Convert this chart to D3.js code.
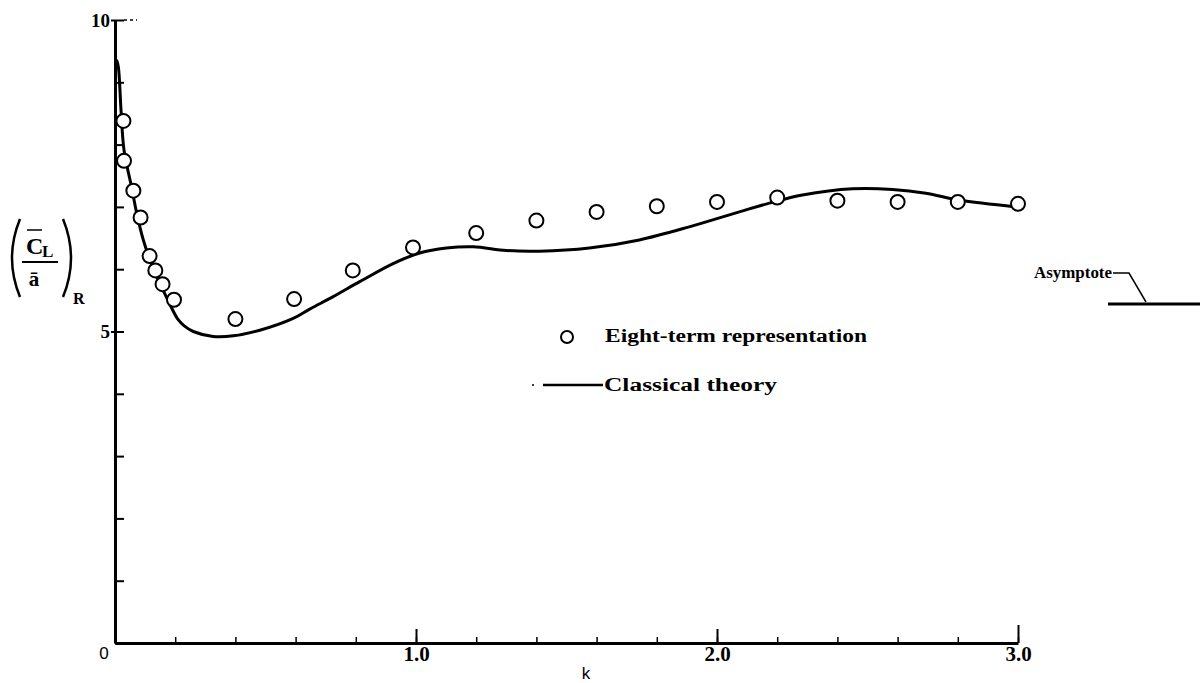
<!DOCTYPE html>
<html>
<head>
<meta charset="utf-8">
<script src="https://cdn.jsdelivr.net/npm/d3@7"></script>
<style>
  body { margin: 0; background: #fff; }
  svg { display: block; }
  .serif { font-family: "Liberation Serif", "DejaVu Serif", serif; font-weight: bold; }
  .sans { font-family: "Liberation Sans", Arial, sans-serif; }
</style>
</head>
<body>
<script>
// *** DATA ***

// Eight-term representation (circles)
var termK = [0.028, 0.03, 0.061, 0.085, 0.115, 0.134, 0.158, 0.196, 0.4, 0.595, 0.79, 0.99,
             1.2, 1.4, 1.6, 1.8, 2.0, 2.2, 2.4, 2.6, 2.8, 3.0];
var termV = [8.38, 7.74, 7.26, 6.83, 6.21, 5.98, 5.76, 5.51, 5.20, 5.52, 5.98, 6.35,
             6.58, 6.78, 6.92, 7.01, 7.08, 7.15, 7.10, 7.08, 7.08, 7.05];

// Classical theory (solid curve)
var theoryK = [0.005, 0.011, 0.02, 0.03, 0.055, 0.072, 0.094, 0.116, 0.149, 0.17, 0.19, 0.21, 0.23, 0.26,
               0.326, 0.393, 0.481, 0.592, 0.647, 0.725, 0.813, 0.924, 1.012, 1.101, 1.19, 1.30,
               1.41, 1.576, 1.742, 1.908, 2.074, 2.174, 2.284, 2.45, 2.583, 2.694, 2.804, 2.993];
var theoryV = [9.36, 9.25, 8.55, 7.91, 7.32, 6.90, 6.47, 6.15, 5.77, 5.56, 5.36, 5.19, 5.09, 5.00,
               4.92, 4.93, 5.02, 5.21, 5.36, 5.56, 5.80, 6.09, 6.26, 6.34, 6.36, 6.30,
               6.29, 6.34, 6.47, 6.68, 6.92, 7.06, 7.19, 7.29, 7.28, 7.22, 7.11, 7.00];

// Ticks
var yTicks = [0, 1, 2, 3, 4, 5, 6, 7, 8, 9, 10];
var yLabels = {5: "5", 10: "10"};
var xMinorTicks = d3.range(1, 16).map(function(i){ return +(i * 0.2).toFixed(1); });
var xMajorTicks = [1, 2, 3];
var xLabels = {1: "1.0", 2: "2.0", 3: "3.0"};

// Legend texts
var legendItems = ["Eight-term representation", "Classical theory"];

// *** CHART ***

var W = 1202, H = 683;
var svg = d3.select("body").append("svg").attr("width", W).attr("height", H);

var x = d3.scaleLinear().domain([0, 3]).range([115, 1018]);
var y = d3.scaleLinear().domain([0, 10]).range([643, 20]);

// y axis: ticks pointing inward, labels on the left
var yAxis = d3.axisLeft(y)
  .tickValues(yTicks)
  .tickSizeInner(-9)
  .tickSizeOuter(0)
  .tickPadding(5)
  .tickFormat(function(d){ return yLabels[d] || ""; });

var gy = svg.append("g").attr("transform", "translate(" + x(0) + ",0)").call(yAxis);
gy.select(".domain").attr("stroke", "#000").attr("stroke-width", 3);
gy.selectAll(".tick line").attr("stroke", "#000").attr("stroke-width", 2);
gy.selectAll(".tick text").attr("class", "serif").style("font-size", "19px").attr("fill", "#000");
// 5 and 10 ticks cross the axis
gy.selectAll(".tick").filter(function(d){ return d === 5 || d === 10; })
  .append("line").attr("x1", -4).attr("x2", 0).attr("stroke", "#000").attr("stroke-width", 2);
// dashed stub at top
svg.append("line")
  .attr("x1", x(0) + 9).attr("x2", x(0) + 22).attr("y1", y(10)).attr("y2", y(10))
  .attr("stroke", "#000").attr("stroke-width", 1.5).attr("stroke-dasharray", "3,3");

// x axis: minor and major ticks pointing up
var gxMinor = svg.append("g").attr("transform", "translate(0," + y(0) + ")")
  .call(d3.axisBottom(x).tickValues(xMinorTicks).tickSizeInner(-6).tickSizeOuter(0).tickFormat(""));
gxMinor.select(".domain").attr("stroke", "#000").attr("stroke-width", 3);
gxMinor.selectAll(".tick line").attr("stroke", "#000").attr("stroke-width", 1.5);

var gxMajor = svg.append("g").attr("transform", "translate(0," + y(0) + ")")
  .call(d3.axisBottom(x).tickValues(xMajorTicks).tickSizeInner(-14).tickSizeOuter(0).tickPadding(8)
    .tickFormat(function(d){ return xLabels[d]; }));
gxMajor.select(".domain").remove();
gxMajor.selectAll(".tick line").attr("stroke", "#000").attr("stroke-width", 2)
  .attr("y2", function(d){ return d === 3 ? -18 : -14; });
gxMajor.selectAll(".tick text").attr("class", "serif").style("font-size", "21px").attr("fill", "#000")
  .attr("y", 3).attr("dy", "0.71em");

// origin label and axis title
svg.append("text").attr("class", "sans").attr("x", 104).attr("y", 659)
  .attr("text-anchor", "middle").style("font-size", "17px").text("0");
svg.append("text").attr("class", "sans").attr("x", 586).attr("y", 679)
  .attr("text-anchor", "middle").style("font-size", "17px").text("k");

// y axis title: (C̄L / ā)R
var yt = svg.append("g");
yt.append("path").attr("d", "M20,219 Q4,258 20,297").attr("fill", "none").attr("stroke", "#000").attr("stroke-width", 2.5);
yt.append("path").attr("d", "M63,219 Q79,258 63,297").attr("fill", "none").attr("stroke", "#000").attr("stroke-width", 2.5);
yt.append("text").attr("class", "serif").attr("x", 26).attr("y", 254).style("font-size", "24px").text("C");
yt.append("line").attr("x1", 27).attr("x2", 42).attr("y1", 230).attr("y2", 230).attr("stroke", "#000").attr("stroke-width", 1.5);
yt.append("text").attr("class", "serif").attr("x", 42).attr("y", 257).style("font-size", "17px").text("L");
yt.append("line").attr("x1", 22).attr("x2", 58).attr("y1", 262).attr("y2", 262).attr("stroke", "#000").attr("stroke-width", 2);
yt.append("text").attr("class", "serif").attr("x", 34).attr("y", 286).attr("text-anchor", "middle").style("font-size", "21px").text("ā");
yt.append("text").attr("class", "serif").attr("x", 73).attr("y", 304).style("font-size", "16px").text("R");

// classical theory curve
var line = d3.line()
  .x(function(d){ return x(d[0]); })
  .y(function(d){ return y(d[1]); })
  .curve(d3.curveCatmullRom.alpha(0.5));

svg.append("path")
  .datum(d3.zip(theoryK, theoryV))
  .attr("d", line)
  .attr("fill", "none").attr("stroke", "#000").attr("stroke-width", 3);

// eight-term circles
svg.selectAll("circle.term")
  .data(d3.zip(termK, termV))
  .enter().append("circle")
  .attr("class", "term")
  .attr("cx", function(d){ return x(d[0]); })
  .attr("cy", function(d){ return y(d[1]); })
  .attr("r", 7)
  .attr("fill", "#fff").attr("stroke", "#000").attr("stroke-width", 2);

// legend
svg.append("circle").attr("cx", 567).attr("cy", 337).attr("r", 6)
  .attr("fill", "#fff").attr("stroke", "#000").attr("stroke-width", 2);
svg.append("text").attr("class", "serif").attr("x", 605).attr("y", 342).style("font-size", "18px")
  .attr("textLength", 262).attr("lengthAdjust", "spacingAndGlyphs").text(legendItems[0]);
svg.append("circle").attr("cx", 533).attr("cy", 385).attr("r", 1).attr("fill", "#000");
svg.append("line").attr("x1", 543).attr("x2", 603).attr("y1", 385).attr("y2", 385)
  .attr("stroke", "#000").attr("stroke-width", 2.5);
svg.append("text").attr("class", "serif").attr("x", 604).attr("y", 391).style("font-size", "18px")
  .attr("textLength", 173).attr("lengthAdjust", "spacingAndGlyphs").text(legendItems[1]);

// asymptote marker
svg.append("text").attr("class", "serif").attr("x", 1034).attr("y", 278).style("font-size", "17px")
  .attr("textLength", 78).attr("lengthAdjust", "spacingAndGlyphs").text("Asymptote");
svg.append("path").attr("d", "M1113,273 L1129,273 L1146,302")
  .attr("fill", "none").attr("stroke", "#000").attr("stroke-width", 1.5);
svg.append("line").attr("x1", 1108).attr("x2", 1200).attr("y1", 304).attr("y2", 304)
  .attr("stroke", "#000").attr("stroke-width", 3);
</script>
</body>
</html>
